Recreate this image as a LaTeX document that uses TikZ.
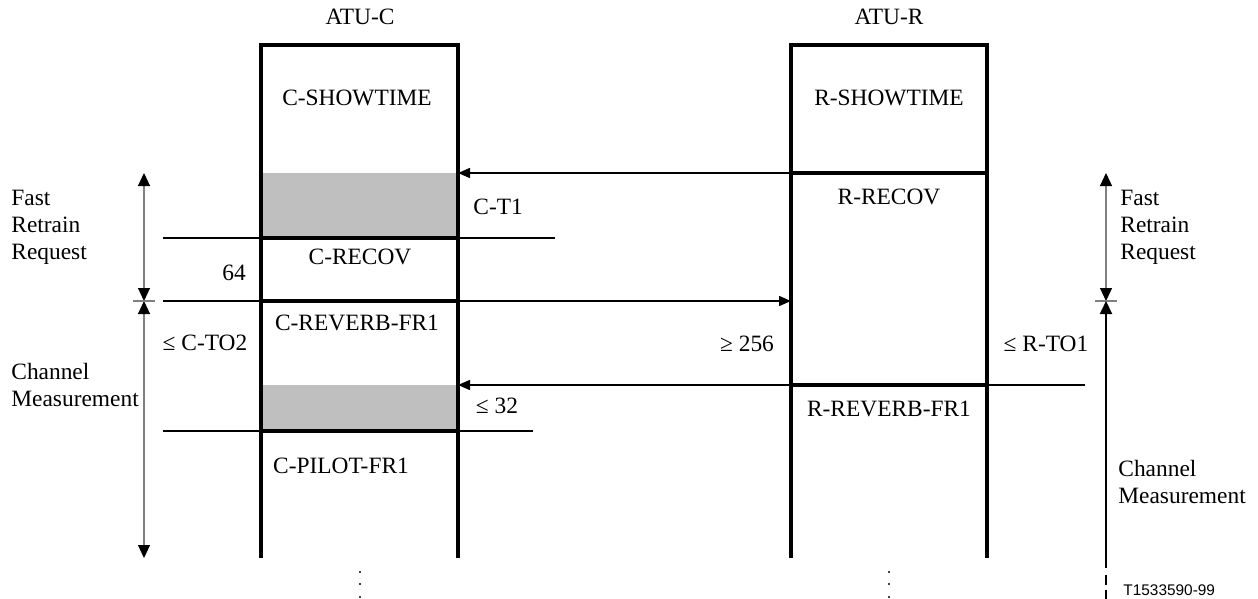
\documentclass[tikz,border=0pt]{standalone}
\usepackage{fontspec}
\setmainfont{Liberation Serif}
\setsansfont{Liberation Sans}
\usepackage{tikz}
\usetikzlibrary{arrows.meta, positioning, calc}

\begin{document}
\begin{tikzpicture}[
    x=0.5pt, y=-0.5pt,
    every node/.style={font=\fontsize{11.7}{13.5}\selectfont, inner sep=0pt},
    lbl/.style={align=left, anchor=west},
    col/.style={line width=1.6pt, black},
    thin/.style={line width=0.75pt, black},
    msg/.style={thin, -{Triangle[length=6pt, width=5pt]}},
    span/.style={line width=0.55pt, gray, {Triangle[length=6.5pt, width=6pt, color=black]}-{Triangle[length=6.5pt, width=6pt, color=black]}},
    grey/.style={fill=black!25, draw=none}
]
    \useasboundingbox (0,0) rectangle (1258,599);

    % shaded states in ATU-C
    \fill[grey] (261,173) rectangle (458,238);
    \fill[grey] (261,385) rectangle (458,431);

    % the two transceivers
    \draw[col] (261,558) -- (261,45) -- (458,45) -- (458,558);
    \draw[col] (791,558) -- (791,45) -- (987,45) -- (987,558);
    \draw[col] (261,238) -- (458,238);
    \draw[col] (261,301) -- (458,301);
    \draw[col] (261,431) -- (458,431);
    \draw[col] (791,173) -- (987,173);
    \draw[col] (791,385) -- (987,385);

    \node (atuc) at (360,17) {ATU-C};
    \node (atur) at (889,17) {ATU-R};

    % state names
    \node (cshow) at (357,98) {C-SHOWTIME};
    \node (rshow) at (889,98) {R-SHOWTIME};
    \node[lbl] (ct1) at (473,207) {C-T1};
    \node (rrecov) at (889,197) {R-RECOV};
    \node (crecov) at (360,257) {C-RECOV};
    \node (creverb) at (357,323) {C-REVERB-FR1};
    \node (rreverb) at (889,409) {R-REVERB-FR1};
    \node (cpilot) at (341,466) {C-PILOT-FR1};

    % durations
    \node (n64) at (234,273) {64};
    \node (cto2) at (205,343) {≤ C-TO2};
    \node (ge256) at (747,344) {≥ 256};
    \node (rto1) at (1046,344) {≤ R-TO1};
    \node (le32) at (497,406) {≤ 32};

    % phases
    \node[lbl] (lfast) at (11,227) {Fast\\Retrain\\Request};
    \node[lbl] (lchan) at (11,384.5) {Channel\\Measurement};
    \node[lbl] (rfast) at (1120,227) {Fast\\Retrain\\Request};
    \node[lbl] (rchan) at (1118,481.5) {Channel\\Measurement};
    \node[lbl, font=\sffamily\fontsize{7.7}{9}\selectfont] (tag) at (1123,590) {T1533590-99};

    % message ends
    \coordinate (rT) at (791,173);
    \coordinate (cT) at (458,173);
    \coordinate (rM) at (1085,385);
    \coordinate (cM) at (458,385);
    \coordinate (cF) at (163,301);
    \coordinate (rF) at (791,301);

    \draw[msg] (rT) -- (cT);
    \draw[msg] (rM) -- (cM);
    \draw[msg] (cF) -- (rF);
    \draw[thin] (163,238) -- (555,238);
    \draw[thin] (163,431) -- (533,431);

    % left spans
    \coordinate (lTop) at (144,173);
    \coordinate (lMid) at (144,301);
    \coordinate (lBot) at (144,558);
    \draw[span] (lTop) -- (lMid);
    \draw[span] (lMid) -- (lBot);
    \draw[gray, line width=0.55pt] (133,301) -- (155,301);

    % right spans
    \coordinate (rTop) at (1106,173);
    \coordinate (rMid) at (1106,301);
    \coordinate (rBot) at (1106,568);
    \draw[span] (rTop) -- (rMid);
    \draw[gray, line width=0.55pt] (1095,301) -- (1117,301);
    \draw[line width=1pt, {Triangle[length=6.5pt, width=6pt]}-] (rMid) -- (rBot);
    \draw[line width=1pt, dash pattern=on 5pt off 2.5pt] (1106,575) -- (1106,599);

    % continuation dots
    \foreach \cx in {360,889}
        \foreach \cy in {572,584,597}
            \fill (\cx,\cy) circle (1.1);
\end{tikzpicture}
\end{document}
